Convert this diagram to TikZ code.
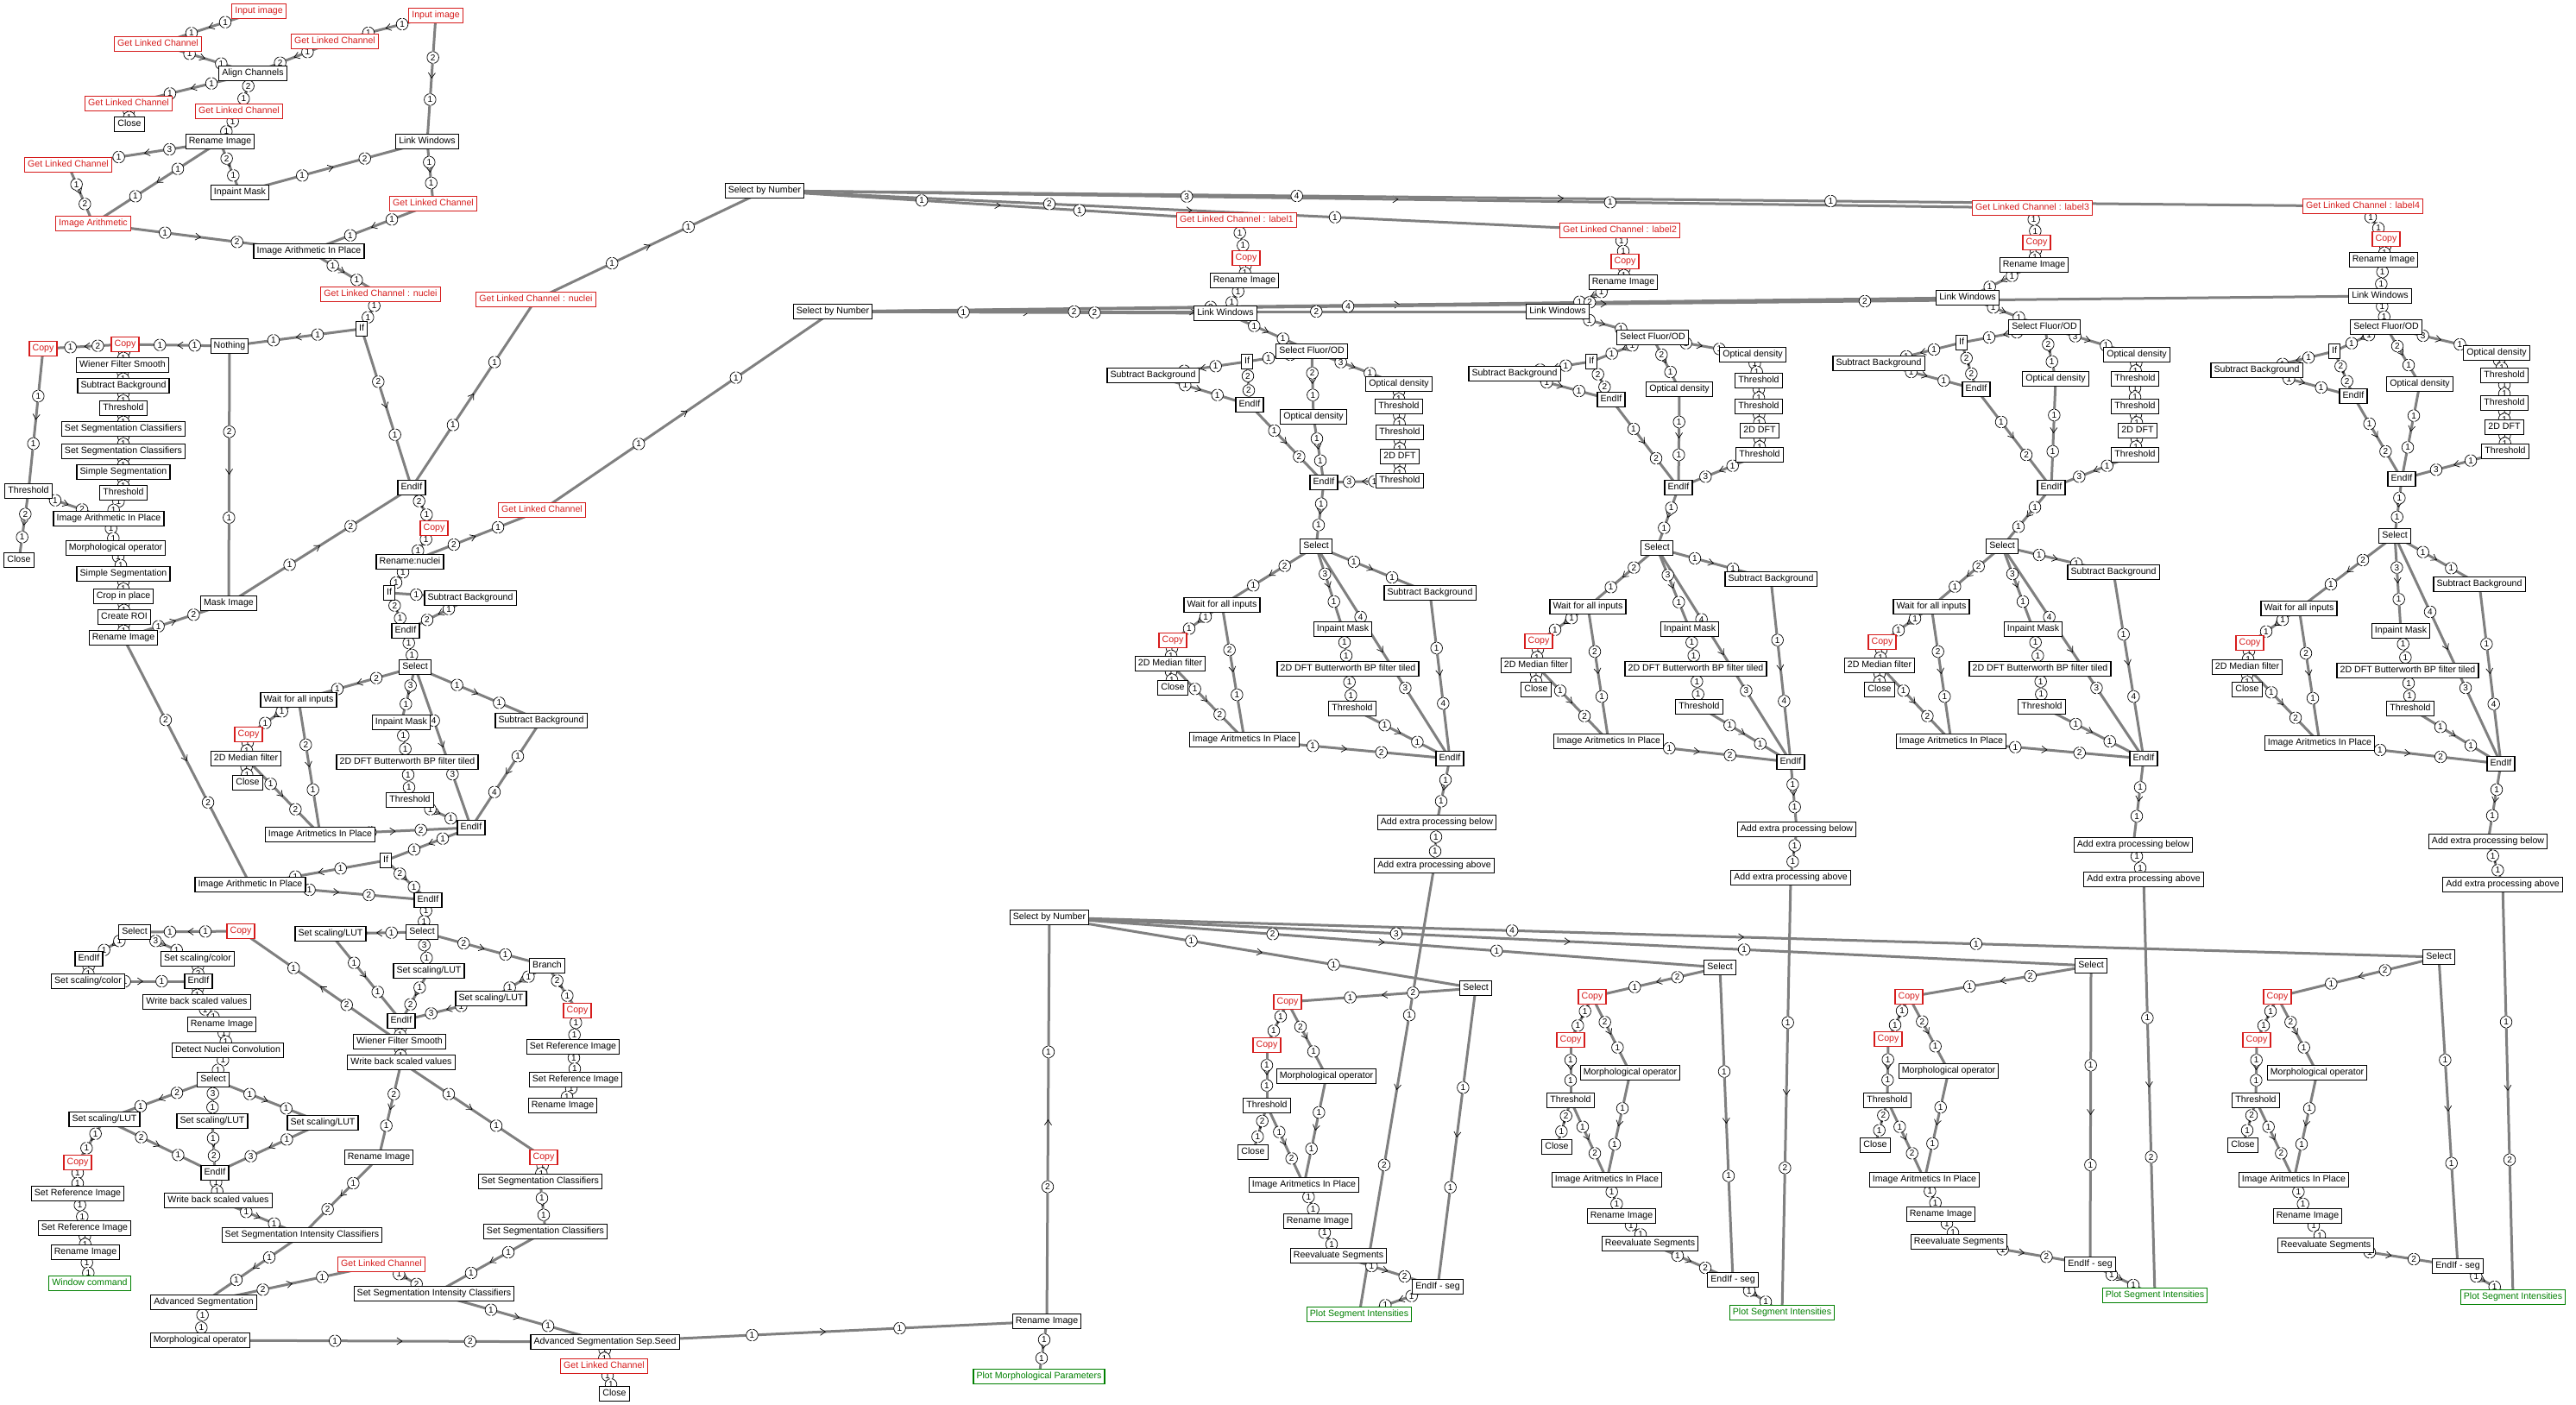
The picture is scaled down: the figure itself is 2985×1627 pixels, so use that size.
\documentclass[tikz,border=0pt]{standalone}
\usepackage{fontspec}
\setmainfont{Liberation Sans}
\usetikzlibrary{arrows.meta,decorations.markings}
\definecolor{wiregray}{RGB}{128,128,128}
\definecolor{linkred}{RGB}{214,28,28}
\definecolor{outgreen}{RGB}{0,128,0}
\pgfdeclarelayer{wires}
\pgfdeclarelayer{ports}
\pgfsetlayers{wires,ports,main}
% a connector is drawn twice: the wire, then its port numbers at 1/3 and 2/3
\newcommand{\wireconn}[4]{\draw[wire] (#1.center) -- (#2.center);}
\newcommand{\portconn}[4]{\path (#1.center) -- node[port,pos=0.333]{#3} node[port,pos=0.667]{#4} (#2.center);}
\newcommand{\edgelist}{%
% ---------- inputs and nuclei ----------
\conn{inA}{glcA1}{1}{1}
\conn{glcA1}{align}{1}{1}
\conn{inB}{glcB1}{1}{1}
\conn{glcB1}{align}{1}{2}
\conn{inB}{lwA}{2}{1}
\conn{align}{glcA2}{1}{1}
\conn{glcA2}{closeA}{1}{1}
\conn{align}{glcA3}{2}{1}
\conn{glcA3}{renA}{1}{1}
\conn{renA}{glcA4}{3}{1}
\conn{renA}{iaR}{1}{1}
\conn{renA}{inpA}{2}{1}
\conn{inpA}{lwA}{1}{2}
\conn{glcA4}{iaR}{1}{2}
\conn{lwA}{glcB2}{1}{1}
\conn{iaR}{iaipA}{1}{2}
\conn{glcB2}{iaipA}{1}{1}
\conn{iaipA}{nucA}{1}{1}
\conn{nucA}{ifA}{1}{1}
\conn{ifA}{nothing}{1}{1}
\conn{ifA}{endA}{2}{1}
\conn{nothing}{cpA1}{1}{1}
\conn{cpA1}{cpA2}{2}{1}
\conn{cpA1}{wfsA}{1}{1}
\conn{wfsA}{sbgA}{1}{1}
\conn{sbgA}{thA1}{1}{1}
\conn{thA1}{sscA1}{1}{1}
\conn{sscA1}{sscA2}{1}{1}
\conn{sscA2}{ssegA1}{1}{1}
\conn{cpA2}{thA2}{1}{1}
\conn{nothing}{mask}{2}{1}
\conn{endA}{nucB}{1}{1}
\conn{nucB}{sbnA}{1}{1}
\conn{glcC}{sbnB}{1}{1}
\conn{ssegA1}{thA3}{1}{1}
\conn{thA2}{iaipB}{1}{2}
\conn{thA3}{iaipB}{1}{1}
\conn{thA2}{closeB}{2}{1}
\conn{iaipB}{morA}{1}{1}
\conn{morA}{ssegA2}{1}{1}
\conn{ssegA2}{crop}{1}{1}
\conn{crop}{roi}{1}{1}
\conn{roi}{renB}{1}{1}
\conn{renB}{mask}{1}{2}
\conn{mask}{endA}{1}{2}
\conn{renB}{iaipC}{2}{2}
\conn{endA}{cpB}{2}{1}
\conn{cpB}{rennuc}{1}{1}
\conn{rennuc}{glcC}{2}{1}
\conn{rennuc}{ifB}{1}{1}
\conn{ifB}{sbgB}{1}{1}
\conn{ifB}{endB}{2}{1}
\conn{sbgB}{endB}{1}{2}
\conn{endB}{selA}{1}{1}
\conn{selA}{waitA}{2}{1}
\conn{selA}{inpB}{3}{1}
\conn{selA}{endC}{4}{3}
\conn{selA}{sbgC}{1}{1}
\conn{waitA}{cpC}{1}{1}
\conn{cpC}{medA}{1}{1}
\conn{medA}{closeC}{1}{1}
\conn{medA}{iarA}{1}{2}
\conn{waitA}{iarA}{2}{1}
\conn{inpB}{dftA}{1}{1}
\conn{dftA}{thA4}{1}{1}
\conn{thA4}{endC}{1}{1}
\conn{sbgC}{endC}{1}{4}
\conn{iarA}{endC}{1}{2}
\conn{endC}{ifC}{1}{1}
\conn{ifC}{iaipC}{1}{1}
\conn{ifC}{endD}{2}{1}
\conn{iaipC}{endD}{1}{2}
\conn{endD}{selC}{1}{1}
% ---------- scaling and segmentation ----------
\conn{selC}{lutA}{1}{1}
\conn{cpD}{selB}{1}{1}
\conn{selB}{endE}{1}{1}
\conn{selB}{colA}{3}{1}
\conn{endE}{colB}{1}{1}
\conn{colB}{endF}{1}{1}
\conn{colA}{endF}{1}{2}
\conn{endF}{wbA}{1}{1}
\conn{wbA}{renC}{1}{1}
\conn{renC}{detect}{1}{1}
\conn{detect}{selD}{1}{1}
\conn{selD}{lutB}{2}{1}
\conn{selD}{lutC}{3}{1}
\conn{selD}{lutD}{1}{1}
\conn{lutB}{endG}{2}{1}
\conn{lutC}{endG}{1}{2}
\conn{lutD}{endG}{1}{3}
\conn{lutB}{cpE}{1}{1}
\conn{cpE}{refA}{1}{1}
\conn{refA}{refB}{1}{1}
\conn{refB}{renD}{1}{1}
\conn{renD}{wincmd}{1}{1}
\conn{endG}{wbB}{1}{1}
\conn{wbB}{ssicA}{1}{1}
\conn{ssicA}{advseg}{1}{1}
\conn{advseg}{morB}{1}{1}
\conn{advseg}{glcD}{2}{1}
\conn{glcD}{ssicB}{1}{2}
\conn{renF}{ssicA}{1}{2}
\conn{wbC}{renF}{2}{1}
\conn{wbC}{cpG}{1}{1}
\conn{cpG}{sscB}{1}{1}
\conn{sscB}{sscC}{1}{1}
\conn{sscC}{ssicB}{1}{1}
\conn{ssicB}{asss}{1}{1}
\conn{morB}{asss}{1}{2}
\conn{asss}{glcE}{1}{1}
\conn{glcE}{closeD}{1}{1}
\conn{asss}{renG}{1}{1}
\conn{renG}{plotM}{1}{1}
\conn{renG}{sbnC}{2}{1}
\conn{wfsB}{cpD}{2}{1}
\conn{selC}{lutF}{3}{1}
\conn{selC}{branch}{2}{1}
\conn{lutA}{endH}{1}{1}
\conn{lutF}{endH}{1}{2}
\conn{branch}{lutG}{1}{1}
\conn{lutG}{endH}{1}{3}
\conn{branch}{cpF}{2}{1}
\conn{cpF}{refC}{1}{1}
\conn{refC}{refD}{1}{1}
\conn{refD}{renE}{1}{1}
\conn{endH}{wfsB}{1}{1}
\conn{wfsB}{wbC}{1}{1}
% ---------- label columns ----------
\foreach \k in {1,...,4} {
  \conn{sbnA}{glcL\k}{\k}{1}
  \conn{sbnB}{lwL\k}{\k}{2}
  \conn{glcL\k}{cpL\k}{1}{1}
  \conn{cpL\k}{renL\k}{1}{1}
  \conn{renL\k}{lwL\k}{1}{1}
  \conn{lwL\k}{sfodL\k}{1}{1}
  \conn{sfodL\k}{ifL\k}{1}{1}
  \conn{ifL\k}{sbgL\k}{1}{1}
  \conn{ifL\k}{endaL\k}{2}{2}
  \conn{sbgL\k}{endaL\k}{1}{1}
  \conn{sfodL\k}{odbL\k}{2}{1}
  \conn{sfodL\k}{odaL\k}{3}{1}
  \conn{odaL\k}{thaL\k}{1}{1}
  \conn{thaL\k}{thbL\k}{1}{1}
  \conn{thbL\k}{dftL\k}{1}{1}
  \conn{dftL\k}{thcL\k}{1}{1}
  \conn{thcL\k}{endbL\k}{1}{3}
  \conn{odbL\k}{endbL\k}{1}{1}
  \conn{endaL\k}{endbL\k}{1}{2}
  \conn{endbL\k}{selL\k}{1}{1}
  \conn{selL\k}{waitL\k}{2}{1}
  \conn{selL\k}{inpL\k}{3}{1}
  \conn{selL\k}{endcL\k}{4}{3}
  \conn{selL\k}{sbgbL\k}{1}{1}
  \conn{sbgbL\k}{endcL\k}{1}{4}
  \conn{waitL\k}{cpcL\k}{1}{1}
  \conn{cpcL\k}{medL\k}{1}{1}
  \conn{medL\k}{closeL\k}{1}{1}
  \conn{medL\k}{iarL\k}{1}{2}
  \conn{waitL\k}{iarL\k}{2}{1}
  \conn{inpL\k}{bbpL\k}{1}{1}
  \conn{bbpL\k}{thdL\k}{1}{1}
  \conn{thdL\k}{endcL\k}{1}{1}
  \conn{iarL\k}{endcL\k}{1}{2}
  \conn{endcL\k}{belowL\k}{1}{1}
  \conn{belowL\k}{aboveL\k}{1}{1}
  \conn{aboveL\k}{plotS\k}{1}{2}
}
% ---------- segment columns ----------
\foreach \k in {1,...,4} {
  \conn{sbnC}{selS\k}{\k}{1}
  \conn{selS\k}{endS\k}{1}{1}
  \conn{selS\k}{cpaS\k}{2}{1}
  \conn{cpaS\k}{cpbS\k}{1}{1}
  \conn{cpaS\k}{morS\k}{2}{1}
  \conn{cpbS\k}{thS\k}{1}{1}
  \conn{thS\k}{closeS\k}{2}{1}
  \conn{thS\k}{iarS\k}{1}{2}
  \conn{morS\k}{iarS\k}{1}{1}
  \conn{iarS\k}{renS\k}{1}{1}
  \conn{renS\k}{reevS\k}{1}{1}
  \conn{reevS\k}{endS\k}{1}{2}
  \conn{endS\k}{plotS\k}{1}{1}
}}

\begin{document}
\begin{tikzpicture}[x=0.5pt,y=-0.5pt,
  font=\fontsize{5.3pt}{6pt}\selectfont,
  box/.style={draw=black,line width=0.6pt,fill=white,inner xsep=1.8pt,inner ysep=0pt,minimum height=8.3pt,text height=3.9pt,text depth=1pt},
  redbox/.style={box,draw=linkred,text=linkred},
  grnbox/.style={box,draw=outgreen,text=outgreen},
  port/.style={circle,draw=black,line width=0.35pt,dash pattern=on 9.8pt off 0.9pt,dash phase=4.9pt,fill=white,inner sep=0pt,minimum size=6.8pt,font=\fontsize{5pt}{5pt}\selectfont},
  wire/.style={draw=wiregray,line width=1.5pt,postaction={decorate},
    decoration={markings,mark=at position 0.5 with {\arrow{Straight Barb[length=3pt,width=4pt,line width=0.35pt,color=black]}}}}]
\useasboundingbox (0,0) rectangle (2985,1627);
% ---------- input images and channel alignment ----------
\node[redbox] (inA) at (300,13) {Input image};
\node[redbox] (glcA1) at (183,51) {Get Linked Channel};
\node[redbox] (inB) at (505,18) {Input image};
\node[redbox] (glcB1) at (388,48) {Get Linked Channel};
\node[box] (align) at (293,85) {Align Channels};
\node[redbox] (glcA2) at (149,120) {Get Linked Channel};
\node[box] (closeA) at (150,144) {Close};
\node[redbox] (glcA3) at (277,129) {Get Linked Channel};
\node[box] (renA) at (255,164) {Rename Image};
\node[box] (lwA) at (495,164) {Link Windows};
\node[redbox] (glcA4) at (79,191) {Get Linked Channel};
\node[box] (inpA) at (278,223) {Inpaint Mask};
\node[redbox] (glcB2) at (502,236) {Get Linked Channel};
\node[redbox] (iaR) at (108,259) {Image Arithmetic};
\node[box] (iaipA) at (358,291) {Image Arithmetic In Place};
\node[redbox] (nucA) at (441,341) {Get Linked Channel : nuclei};
\node[redbox] (nucB) at (621,347) {Get Linked Channel : nuclei};
\node[box] (ifA) at (419,381) {If};
\node[box] (nothing) at (266,401) {Nothing};
% ---------- nuclei mask ----------
\node[redbox] (cpA1) at (145,399) {Copy};
\node[redbox] (cpA2) at (50,404) {Copy};
\node[box] (wfsA) at (142,423) {Wiener Filter Smooth};
\node[box] (sbgA) at (143,447) {Subtract Background};
\node[box] (thA1) at (143,473) {Threshold};
\node[box] (sscA1) at (143,497) {Set Segmentation Classifiers};
\node[box] (sscA2) at (143,523) {Set Segmentation Classifiers};
\node[box] (ssegA1) at (143,547) {Simple Segmentation};
\node[box] (thA2) at (33,569) {Threshold};
\node[box] (thA3) at (143,571) {Threshold};
\node[box] (iaipB) at (126,601) {Image Arithmetic In Place};
\node[box] (closeB) at (22,649) {Close};
\node[box] (morA) at (134,635) {Morphological operator};
\node[box] (ssegA2) at (143,665) {Simple Segmentation};
\node[box] (crop) at (143,691) {Crop in place};
\node[box] (roi) at (144,715) {Create ROI};
\node[box] (renB) at (143,739) {Rename Image};
\node[box] (mask) at (265,699) {Mask Image};
\node[box] (endA) at (477,565) {EndIf};
\node[redbox] (cpB) at (503,612) {Copy};
\node[redbox] (glcC) at (628,591) {Get Linked Channel};
\node[box] (rennuc) at (475,651) {Rename:nuclei};
\node[box] (ifB) at (451,687) {If};
\node[box] (sbgB) at (545,693) {Subtract Background};
\node[box] (endB) at (470,731) {EndIf};
\node[box] (selA) at (481,773) {Select};
\node[box] (waitA) at (346,811) {Wait for all inputs};
\node[box] (inpB) at (465,837) {Inpaint Mask};
\node[box] (sbgC) at (627,835) {Subtract Background};
\node[redbox] (cpC) at (288,851) {Copy};
\node[box] (medA) at (285,879) {2D Median filter};
\node[box] (closeC) at (287,907) {Close};
\node[box] (dftA) at (472,883) {2D DFT Butterworth BP filter tiled};
\node[box] (thA4) at (475,927) {Threshold};
\node[box] (iarA) at (371,967) {Image Aritmetics In Place};
\node[box] (endC) at (546,959) {EndIf};
\node[box] (ifC) at (447,997) {If};
\node[box] (iaipC) at (290,1025) {Image Arithmetic In Place};
\node[box] (endD) at (496,1043) {EndIf};
% ---------- scaling and segmentation ----------
\node[box] (selB) at (156,1080) {Select};
\node[redbox] (cpD) at (279,1079) {Copy};
\node[box] (lutA) at (383,1082) {Set scaling/LUT};
\node[box] (selC) at (489,1080) {Select};
\node[box] (endE) at (103,1111) {EndIf};
\node[box] (colA) at (229,1111) {Set scaling/color};
\node[box] (colB) at (102,1137) {Set scaling/color};
\node[box] (endF) at (230,1137) {EndIf};
\node[box] (wbA) at (228,1161) {Write back scaled values};
\node[box] (renC) at (257,1187) {Rename Image};
\node[box] (detect) at (264,1217) {Detect Nuclei Convolution};
\node[box] (selD) at (247,1251) {Select};
\node[box] (lutB) at (121,1297) {Set scaling/LUT};
\node[box] (lutC) at (246,1299) {Set scaling/LUT};
\node[box] (lutD) at (374,1301) {Set scaling/LUT};
\node[redbox] (cpE) at (90,1347) {Copy};
\node[box] (endG) at (249,1359) {EndIf};
\node[box] (refA) at (90,1383) {Set Reference Image};
\node[box] (wbB) at (253,1391) {Write back scaled values};
\node[box] (refB) at (98,1423) {Set Reference Image};
\node[box] (ssicA) at (350,1431) {Set Segmentation Intensity Classifiers};
\node[box] (renD) at (99,1451) {Rename Image};
\node[grnbox] (wincmd) at (104,1487) {Window command};
\node[box] (advseg) at (236,1509) {Advanced Segmentation};
\node[box] (morB) at (232,1553) {Morphological operator};
\node[redbox] (glcD) at (442,1465) {Get Linked Channel};
\node[box] (ssicB) at (503,1499) {Set Segmentation Intensity Classifiers};
\node[box] (lutF) at (497,1125) {Set scaling/LUT};
\node[box] (branch) at (634,1119) {Branch};
\node[box] (lutG) at (569,1157) {Set scaling/LUT};
\node[box] (endH) at (465,1183) {EndIf};
\node[redbox] (cpF) at (669,1171) {Copy};
\node[box] (wfsB) at (463,1207) {Wiener Filter Smooth};
\node[box] (refC) at (664,1213) {Set Reference Image};
\node[box] (wbC) at (465,1231) {Write back scaled values};
\node[box] (refD) at (667,1251) {Set Reference Image};
\node[box] (renE) at (652,1281) {Rename Image};
\node[box] (renF) at (439,1341) {Rename Image};
\node[redbox] (cpG) at (630,1341) {Copy};
\node[box] (sscB) at (626,1369) {Set Segmentation Classifiers};
\node[box] (sscC) at (632,1427) {Set Segmentation Classifiers};
\node[box] (asss) at (701,1555) {Advanced Segmentation Sep.Seed};
\node[redbox] (glcE) at (700,1583) {Get Linked Channel};
\node[box] (closeD) at (712,1615) {Close};
\node[box] (renG) at (1213,1531) {Rename Image};
\node[grnbox] (plotM) at (1204,1595) {Plot Morphological Parameters};
% ---------- label selectors ----------
\node[box] (sbnA) at (886,221) {Select by Number};
\node[box] (sbnB) at (965,361) {Select by Number};
\node[box] (sbnC) at (1216,1063) {Select by Number};
% ---------- label 1 ----------
\node[redbox] (glcL1) at (1433,255) {Get Linked Channel : label1};
\node[redbox] (cpL1) at (1444,299) {Copy};
\node[box] (renL1) at (1442,325) {Rename Image};
\node[box] (lwL1) at (1420,363) {Link Windows};
\node[box] (sfodL1) at (1520,407) {Select Fluor/OD};
\node[box] (ifL1) at (1445,419) {If};
\node[box] (sbgL1) at (1336,435) {Subtract Background};
\node[box] (endaL1) at (1448,469) {EndIf};
\node[box] (odaL1) at (1621,445) {Optical density};
\node[box] (odbL1) at (1522,483) {Optical density};
\node[box] (thaL1) at (1621,471) {Threshold};
\node[box] (thbL1) at (1622,501) {Threshold};
\node[box] (dftL1) at (1622,529) {2D DFT};
\node[box] (thcL1) at (1622,557) {Threshold};
\node[box] (endbL1) at (1534,559) {EndIf};
\node[box] (selL1) at (1525,633) {Select};
\node[box] (sbgbL1) at (1657,687) {Subtract Background};
\node[box] (waitL1) at (1416,701) {Wait for all inputs};
\node[box] (inpL1) at (1556,729) {Inpaint Mask};
\node[redbox] (cpcL1) at (1359,742) {Copy};
\node[box] (medL1) at (1356,769) {2D Median filter};
\node[box] (closeL1) at (1359,797) {Close};
\node[box] (bbpL1) at (1562,775) {2D DFT Butterworth BP filter tiled};
\node[box] (thdL1) at (1567,821) {Threshold};
\node[box] (iarL1) at (1442,857) {Image Aritmetics In Place};
\node[box] (endcL1) at (1680,879) {EndIf};
\node[box] (belowL1) at (1665,953) {Add extra processing below};
\node[box] (aboveL1) at (1662,1003) {Add extra processing above};
% ---------- label 2 ----------
\node[redbox] (glcL2) at (1877,267) {Get Linked Channel : label2};
\node[redbox] (cpL2) at (1883,303) {Copy};
\node[box] (renL2) at (1881,327) {Rename Image};
\node[box] (lwL2) at (1805,361) {Link Windows};
\node[box] (sfodL2) at (1915,391) {Select Fluor/OD};
\node[box] (ifL2) at (1844,419) {If};
\node[box] (sbgL2) at (1755,433) {Subtract Background};
\node[box] (endaL2) at (1867,463) {EndIf};
\node[box] (odaL2) at (2031,411) {Optical density};
\node[box] (odbL2) at (1946,451) {Optical density};
\node[box] (thaL2) at (2038,441) {Threshold};
\node[box] (thbL2) at (2038,471) {Threshold};
\node[box] (dftL2) at (2039,499) {2D DFT};
\node[box] (thcL2) at (2039,527) {Threshold};
\node[box] (endbL2) at (1945,565) {EndIf};
\node[box] (selL2) at (1920,635) {Select};
\node[box] (sbgbL2) at (2052,671) {Subtract Background};
\node[box] (waitL2) at (1840,703) {Wait for all inputs};
\node[box] (inpL2) at (1958,729) {Inpaint Mask};
\node[redbox] (cpcL2) at (1783,743) {Copy};
\node[box] (medL2) at (1780,771) {2D Median filter};
\node[box] (closeL2) at (1780,799) {Close};
\node[box] (bbpL2) at (1965,775) {2D DFT Butterworth BP filter tiled};
\node[box] (thdL2) at (1969,819) {Threshold};
\node[box] (iarL2) at (1864,859) {Image Aritmetics In Place};
\node[box] (endcL2) at (2075,883) {EndIf};
\node[box] (belowL2) at (2082,961) {Add extra processing below};
\node[box] (aboveL2) at (2075,1017) {Add extra processing above};
% ---------- label 3 ----------
\node[redbox] (glcL3) at (2355,241) {Get Linked Channel : label3};
\node[redbox] (cpL3) at (2360,281) {Copy};
\node[box] (renL3) at (2357,307) {Rename Image};
\node[box] (lwL3) at (2280,345) {Link Windows};
\node[box] (sfodL3) at (2369,379) {Select Fluor/OD};
\node[box] (ifL3) at (2273,397) {If};
\node[box] (sbgL3) at (2177,421) {Subtract Background};
\node[box] (endaL3) at (2290,451) {EndIf};
\node[box] (odaL3) at (2476,411) {Optical density};
\node[box] (odbL3) at (2382,439) {Optical density};
\node[box] (thaL3) at (2474,439) {Threshold};
\node[box] (thbL3) at (2474,471) {Threshold};
\node[box] (dftL3) at (2477,499) {2D DFT};
\node[box] (thcL3) at (2474,527) {Threshold};
\node[box] (endbL3) at (2377,565) {EndIf};
\node[box] (selL3) at (2320,633) {Select};
\node[box] (sbgbL3) at (2449,663) {Subtract Background};
\node[box] (waitL3) at (2238,703) {Wait for all inputs};
\node[box] (inpL3) at (2356,729) {Inpaint Mask};
\node[redbox] (cpcL3) at (2181,744) {Copy};
\node[box] (medL3) at (2178,771) {2D Median filter};
\node[box] (closeL3) at (2178,799) {Close};
\node[box] (bbpL3) at (2364,775) {2D DFT Butterworth BP filter tiled};
\node[box] (thdL3) at (2366,819) {Threshold};
\node[box] (iarL3) at (2261,859) {Image Aritmetics In Place};
\node[box] (endcL3) at (2484,879) {EndIf};
\node[box] (belowL3) at (2472,979) {Add extra processing below};
\node[box] (aboveL3) at (2484,1019) {Add extra processing above};
% ---------- label 4 ----------
\node[redbox] (glcL4) at (2738,239) {Get Linked Channel : label4};
\node[redbox] (cpL4) at (2765,277) {Copy};
\node[box] (renL4) at (2762,301) {Rename Image};
\node[box] (lwL4) at (2758,343) {Link Windows};
\node[box] (sfodL4) at (2765,379) {Select Fluor/OD};
\node[box] (ifL4) at (2705,407) {If};
\node[box] (sbgL4) at (2615,429) {Subtract Background};
\node[box] (endaL4) at (2727,459) {EndIf};
\node[box] (odaL4) at (2893,409) {Optical density};
\node[box] (odbL4) at (2804,445) {Optical density};
\node[box] (thaL4) at (2902,435) {Threshold};
\node[box] (thbL4) at (2902,467) {Threshold};
\node[box] (dftL4) at (2902,495) {2D DFT};
\node[box] (thcL4) at (2903,523) {Threshold};
\node[box] (endbL4) at (2783,555) {EndIf};
\node[box] (selL4) at (2775,621) {Select};
\node[box] (sbgbL4) at (2873,677) {Subtract Background};
\node[box] (waitL4) at (2664,705) {Wait for all inputs};
\node[box] (inpL4) at (2782,731) {Inpaint Mask};
\node[redbox] (cpcL4) at (2607,745) {Copy};
\node[box] (medL4) at (2604,773) {2D Median filter};
\node[box] (closeL4) at (2604,799) {Close};
\node[box] (bbpL4) at (2790,777) {2D DFT Butterworth BP filter tiled};
\node[box] (thdL4) at (2793,821) {Threshold};
\node[box] (iarL4) at (2688,861) {Image Aritmetics In Place};
\node[box] (endcL4) at (2898,885) {EndIf};
\node[box] (belowL4) at (2883,975) {Add extra processing below};
\node[box] (aboveL4) at (2900,1025) {Add extra processing above};
% ---------- segment evaluation ----------
\node[box] (selS1) at (1710,1145) {Select};
\node[redbox] (cpaS1) at (1492,1161) {Copy};
\node[redbox] (cpbS1) at (1468,1211) {Copy};
\node[box] (morS1) at (1537,1247) {Morphological operator};
\node[box] (thS1) at (1468,1281) {Threshold};
\node[box] (closeS1) at (1452,1335) {Close};
\node[box] (iarS1) at (1511,1373) {Image Aritmetics In Place};
\node[box] (renS1) at (1527,1415) {Rename Image};
\node[box] (reevS1) at (1551,1455) {Reevaluate Segments};
\node[box] (endS1) at (1666,1491) {EndIf - seg};
\node[grnbox] (plotS1) at (1575,1523) {Plot Segment Intensities};
\node[box] (selS2) at (1993,1121) {Select};
\node[redbox] (cpaS2) at (1845,1155) {Copy};
\node[redbox] (cpbS2) at (1820,1205) {Copy};
\node[box] (morS2) at (1889,1243) {Morphological operator};
\node[box] (thS2) at (1820,1275) {Threshold};
\node[box] (closeS2) at (1804,1329) {Close};
\node[box] (iarS2) at (1862,1367) {Image Aritmetics In Place};
\node[box] (renS2) at (1879,1409) {Rename Image};
\node[box] (reevS2) at (1912,1441) {Reevaluate Segments};
\node[box] (endS2) at (2008,1483) {EndIf - seg};
\node[grnbox] (plotS2) at (2065,1521) {Plot Segment Intensities};
\node[box] (selS3) at (2423,1119) {Select};
\node[redbox] (cpaS3) at (2212,1155) {Copy};
\node[redbox] (cpbS3) at (2188,1204) {Copy};
\node[box] (morS3) at (2258,1241) {Morphological operator};
\node[box] (thS3) at (2187,1275) {Threshold};
\node[box] (closeS3) at (2173,1327) {Close};
\node[box] (iarS3) at (2230,1367) {Image Aritmetics In Place};
\node[box] (renS3) at (2249,1407) {Rename Image};
\node[box] (reevS3) at (2270,1439) {Reevaluate Segments};
\node[box] (endS3) at (2422,1465) {EndIf - seg};
\node[grnbox] (plotS3) at (2497,1501) {Plot Segment Intensities};
\node[box] (selS4) at (2826,1109) {Select};
\node[redbox] (cpaS4) at (2639,1155) {Copy};
\node[redbox] (cpbS4) at (2615,1205) {Copy};
\node[box] (morS4) at (2685,1243) {Morphological operator};
\node[box] (thS4) at (2614,1275) {Threshold};
\node[box] (closeS4) at (2599,1327) {Close};
\node[box] (iarS4) at (2658,1367) {Image Aritmetics In Place};
\node[box] (renS4) at (2674,1409) {Rename Image};
\node[box] (reevS4) at (2695,1443) {Reevaluate Segments};
\node[box] (endS4) at (2848,1467) {EndIf - seg};
\node[grnbox] (plotS4) at (2912,1503) {Plot Segment Intensities};
% ---------- connectors: wires first, port numbers above them ----------
\begin{pgfonlayer}{wires}
  \let\conn\wireconn
  \edgelist
\end{pgfonlayer}
\begin{pgfonlayer}{ports}
  \let\conn\portconn
  \edgelist
\end{pgfonlayer}
\end{tikzpicture}
\end{document}
